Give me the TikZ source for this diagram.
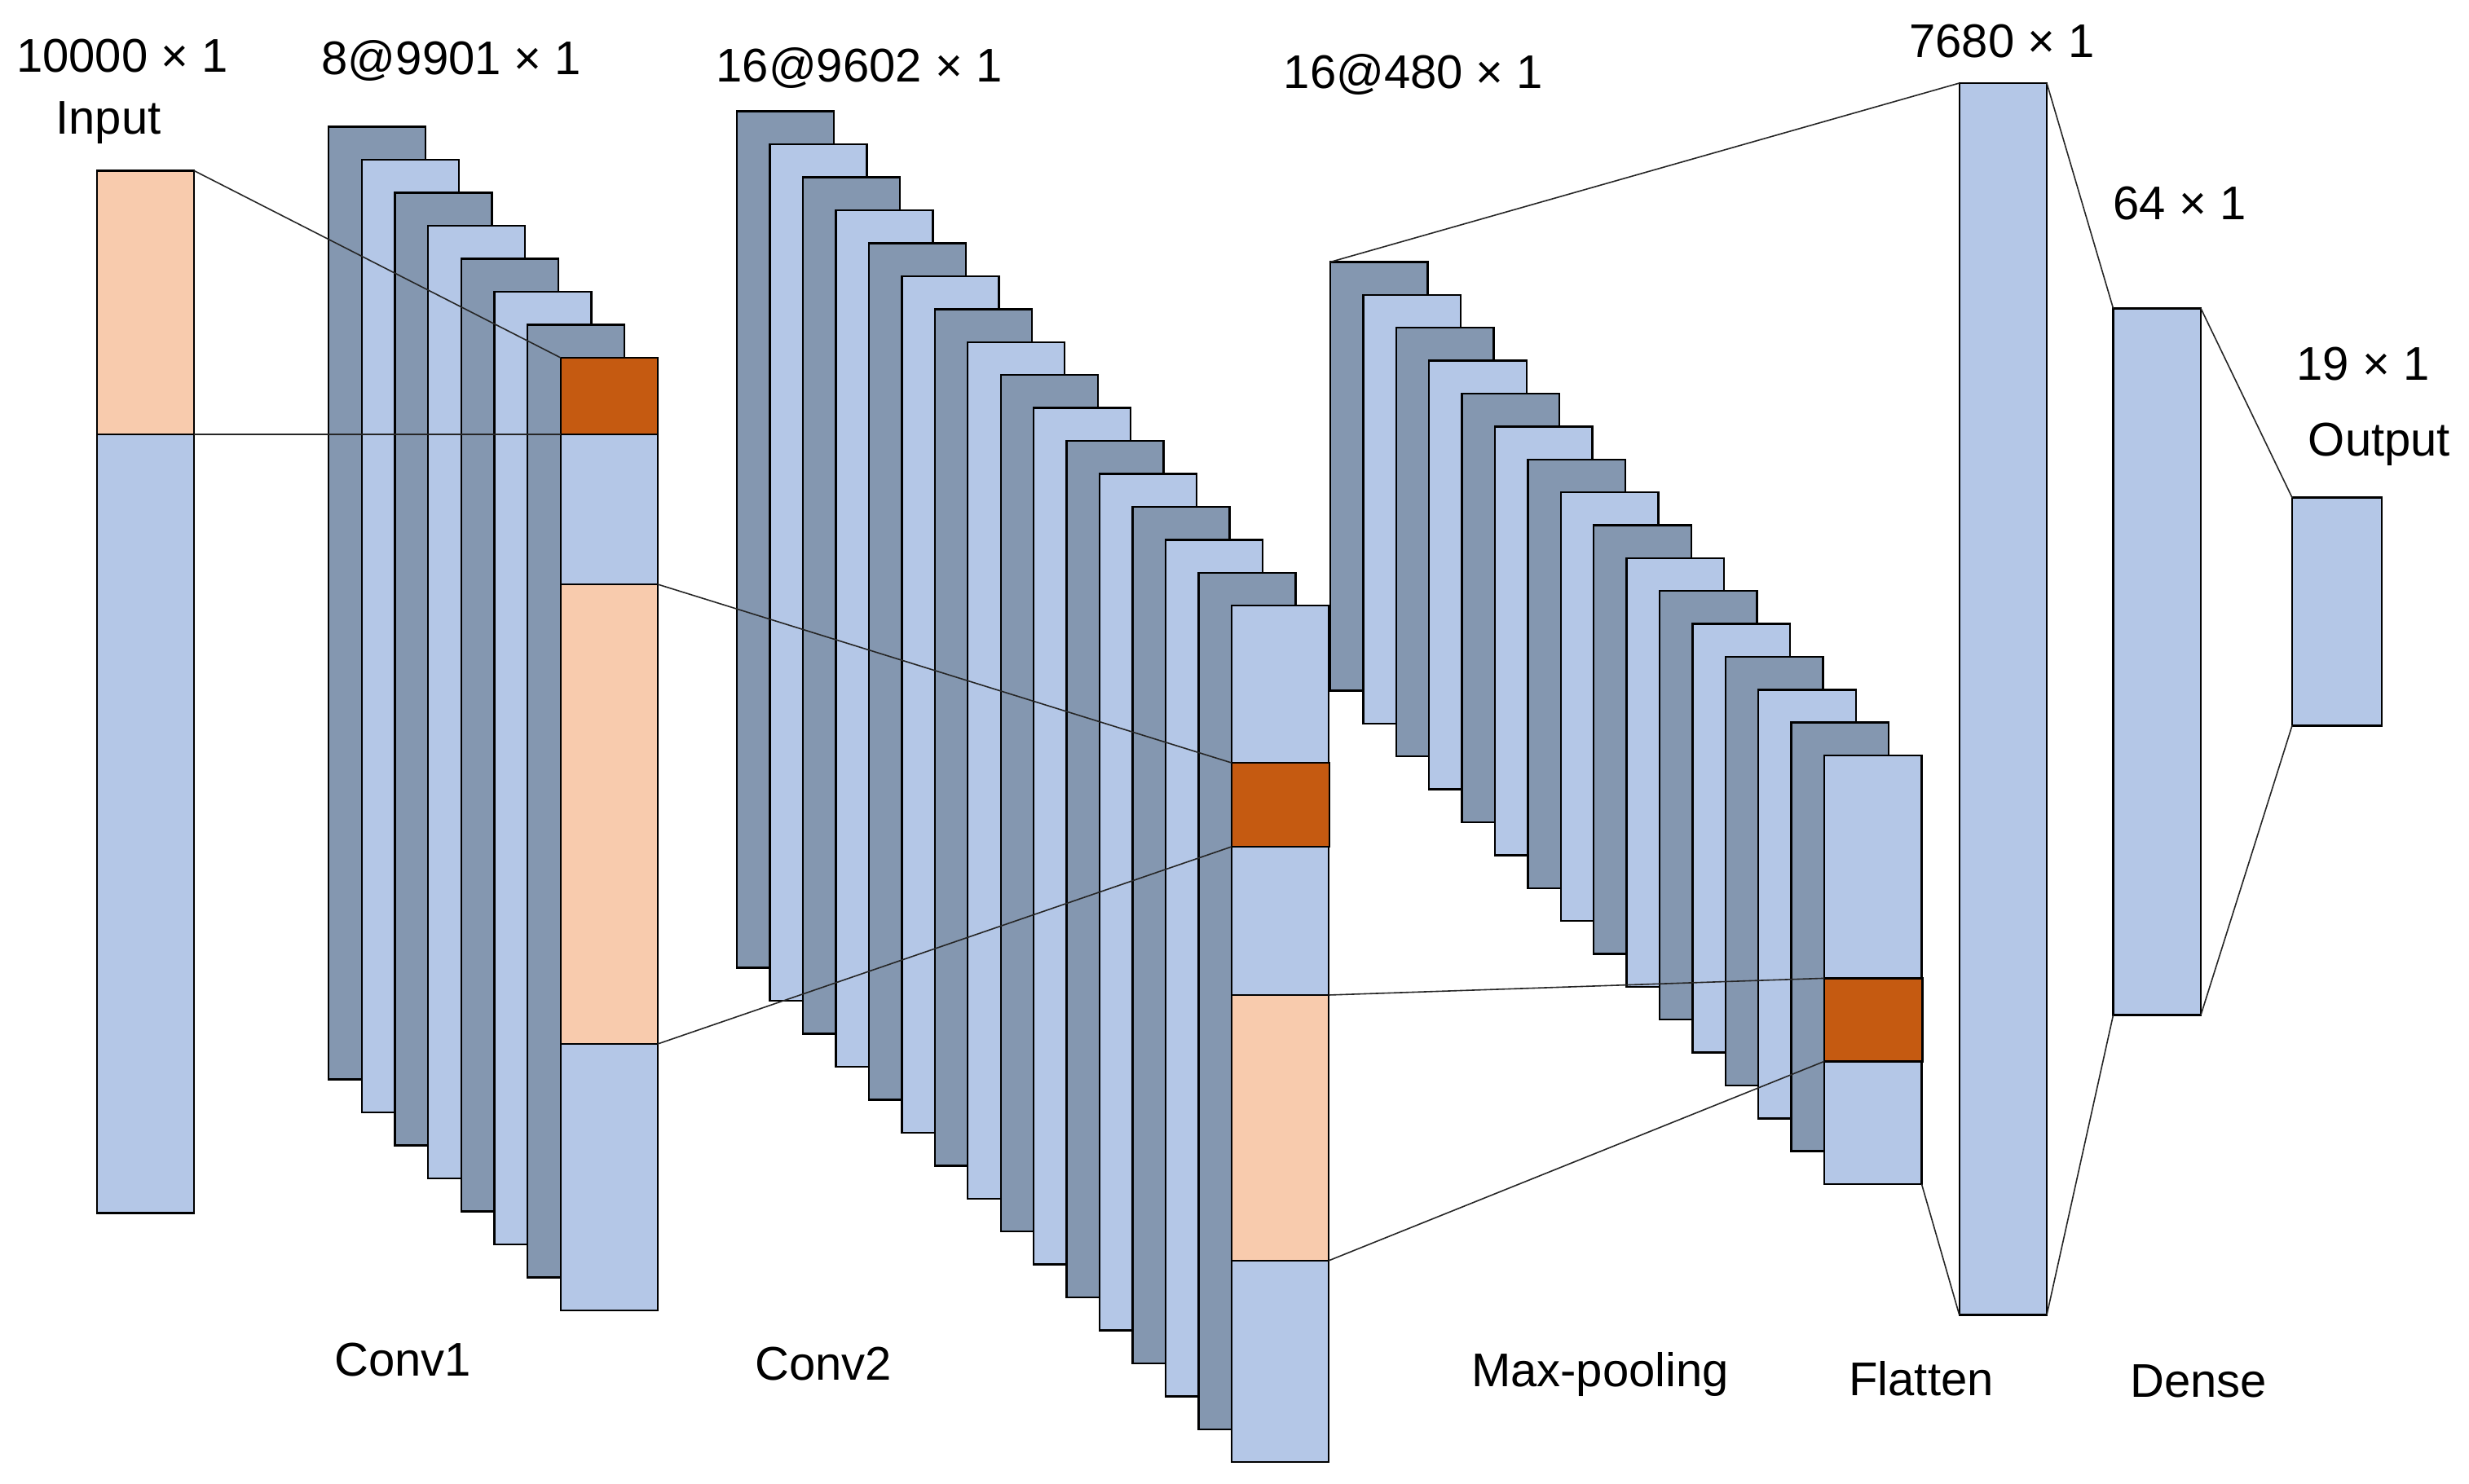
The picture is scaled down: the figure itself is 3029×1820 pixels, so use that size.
\documentclass[tikz,border=0pt]{standalone}
\usepackage{fontspec}
\setmainfont{Liberation Sans}
\newfontfamily\lbfont{Liberation Sans}
\definecolor{darkc}{HTML}{8497B0}
\definecolor{lightc}{HTML}{B4C7E7}
\definecolor{peachc}{HTML}{F8CBAD}
\definecolor{hotc}{HTML}{C55A11}
\tikzset{
  box/.style={draw=black, line width=1.2pt, inner sep=0pt, outer sep=0pt, anchor=north west},
  link/.style={draw=black!85, line width=0.8pt},
  lbl/.style={font=\lbfont\fontsize{29}{34}\selectfont, inner sep=0pt, anchor=base}
}
% name, fill colour, x, y, w, h  (pixel units of the reference)
\newcommand\blk[6]{\node[box, fill=#2, minimum width=#5*0.5pt, minimum height=#6*0.5pt] (#1) at (#3,#4) {};}
\begin{document}
\begin{tikzpicture}[x=0.5pt, y=-0.5pt]
\useasboundingbox (0,0) rectangle (3029,1820);
\fill[white] (0,0) rectangle (3029,1820);
% input
\blk{in}{lightc}{118.8}{209.3}{119}{1279.3}
\blk{inp}{peachc}{118.8}{209.3}{119}{323.7}
% conv1 stack
\foreach \i in {0,...,6}{
  \ifodd\i \def\col{lightc}\else\def\col{darkc}\fi
  \pgfmathsetmacro\xx{403+40.7*\i}
  \pgfmathsetmacro\yy{155.4+40.5*\i}
  \blk{c1-\i}{\col}{\xx}{\yy}{119}{1169}
}
\blk{c1f}{lightc}{687.9}{439}{119}{1169}
\blk{c1o}{hotc}{687.9}{439}{119}{94}
\blk{c1p}{peachc}{687.9}{717}{119}{564}
% conv2 stack
\foreach \i in {0,...,14}{
  \ifodd\i \def\col{lightc}\else\def\col{darkc}\fi
  \pgfmathsetmacro\xx{904.2+40.44*\i}
  \pgfmathsetmacro\yy{136.6+40.45*\i}
  \blk{c2-\i}{\col}{\xx}{\yy}{119}{1051}
}
\blk{c2f}{lightc}{1510.8}{743}{119}{1051}
\blk{c2o}{hotc}{1510.8}{936}{120}{103}
\blk{c2p}{peachc}{1510.8}{1221}{119}{326}
% max-pooling stack
\foreach \i in {0,...,14}{
  \ifodd\i \def\col{lightc}\else\def\col{darkc}\fi
  \pgfmathsetmacro\xx{1632+40.4*\i}
  \pgfmathsetmacro\yy{321.5+40.37*\i}
  \blk{mp-\i}{\col}{\xx}{\yy}{119.5}{526}
}
\blk{mpf}{lightc}{2238}{927}{119.5}{526}
\blk{mpo}{hotc}{2238}{1200.4}{120.5}{102}
% flatten and dense
\blk{fl}{lightc}{2403.7}{102}{107.3}{1511.5}
\blk{d64}{lightc}{2592.5}{378.4}{107.5}{867.1}
\blk{out}{lightc}{2812}{610.6}{110}{279.7}
% connectors
\draw[link] (inp.north east) -- (c1o.north west);
\draw[link] (inp.south east) -- (c1o.south west);
\draw[link] (c1p.north east) -- (c2o.north west);
\draw[link] (c1p.south east) -- (c2o.south west);
\draw[link] (c2p.north east) -- (mpo.north west);
\draw[link] (c2p.south east) -- (mpo.south west);
\draw[link] (mp-0.north west) -- (fl.north west);
\draw[link] (mpf.south east) -- (fl.south west);
\draw[link] (fl.north east) -- (d64.north west);
\draw[link] (fl.south east) -- (d64.south west);
\draw[link] (d64.north east) -- (out.north west);
\draw[link] (d64.south east) -- (out.south west);
% labels
\node[lbl] (t1) at (150,88) {10000 × 1};
\node[lbl] (t2) at (133,164.5) {Input};
\node[lbl] (t3) at (554,91) {8@9901 × 1};
\node[lbl] (t4) at (1054,100) {16@9602 × 1};
\node[lbl] (t5) at (1734,108) {16@480 × 1};
\node[lbl] (t6) at (2456,70) {7680 × 1};
\node[lbl] (t7) at (2674,269) {64 × 1};
\node[lbl] (t8) at (2899,466) {19 × 1};
\node[lbl] (t9) at (2919,559.5) {Output};
\node[lbl] (b1) at (494,1688) {Conv1};
\node[lbl] (b2) at (1010,1693) {Conv2};
\node[lbl] (b3) at (1963,1701.6) {Max-pooling};
\node[lbl] (b4) at (2357,1712.7) {Flatten};
\node[lbl] (b5) at (2697,1714) {Dense};
\end{tikzpicture}
\end{document}
